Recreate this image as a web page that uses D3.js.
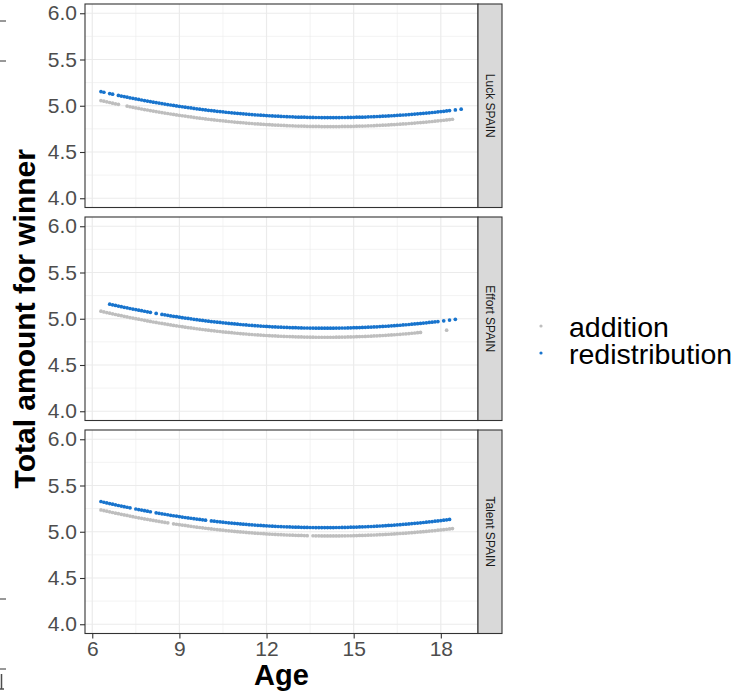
<!DOCTYPE html>
<html>
<head>
<meta charset="utf-8">
<script src="https://cdn.jsdelivr.net/npm/d3@7"></script>
<style>
  body { margin: 0; background: #fff; }
  svg { display: block; }
</style>
</head>
<body>
<svg id="chart" width="756" height="698"></svg>
<script>
// Ages at which predicted totals are plotted (shared by every series)
const AGES = [
  6.3, 6.4, 6.5, 6.6, 6.7, 6.8, 6.9, 7.0, 7.1, 7.2,
  7.3, 7.4, 7.5, 7.6, 7.7, 7.8, 7.9, 8.0, 8.1, 8.2,
  8.3, 8.4, 8.5, 8.6, 8.7, 8.8, 8.9, 9.0, 9.1, 9.2,
  9.3, 9.4, 9.5, 9.6, 9.7, 9.8, 9.9, 10.0, 10.1, 10.2,
  10.3, 10.4, 10.5, 10.6, 10.7, 10.8, 10.9, 11.0, 11.1, 11.2,
  11.3, 11.4, 11.5, 11.6, 11.7, 11.8, 11.9, 12.0, 12.1, 12.2,
  12.3, 12.4, 12.5, 12.6, 12.7, 12.8, 12.9, 13.0, 13.1, 13.2,
  13.3, 13.4, 13.5, 13.6, 13.7, 13.8, 13.9, 14.0, 14.1, 14.2,
  14.3, 14.4, 14.5, 14.6, 14.7, 14.8, 14.9, 15.0, 15.1, 15.2,
  15.3, 15.4, 15.5, 15.6, 15.7, 15.8, 15.9, 16.0, 16.1, 16.2,
  16.3, 16.4, 16.5, 16.6, 16.7, 16.8, 16.9, 17.0, 17.1, 17.2,
  17.3, 17.4, 17.5, 17.6, 17.7, 17.8, 17.9, 18.0, 18.1, 18.2,
  18.3, 18.4, 18.5, 18.6, 18.7
];

const FACETS = ["Luck SPAIN", "Effort SPAIN", "Talent SPAIN"];
const GROUPS = ["addition", "redistribution"];
const GROUP_COLORS = ["#bebebe", "#1874cd"];

const X_TICKS = [6, 9, 12, 15, 18];
const Y_TICKS = [4.0, 4.5, 5.0, 5.5, 6.0];

// Total amount for winner, one value per age (null = no observation)
const luckAddition = [
  5.056, 5.049, 5.042, 5.035, 5.028, 5.021, 5.015, null, null, 4.996,
  4.989, 4.983, 4.977, 4.971, 4.965, 4.959, 4.954, 4.948, 4.942, 4.937,
  4.932, 4.926, 4.921, 4.916, 4.911, 4.906, 4.901, 4.897, 4.892, 4.888,
  4.883, 4.879, 4.874, 4.870, 4.866, 4.862, 4.858, 4.854, 4.851, 4.847,
  4.843, 4.840, 4.837, 4.833, 4.830, 4.827, 4.824, 4.821, 4.818, 4.816,
  4.813, 4.810, 4.808, 4.805, 4.803, 4.801, 4.799, 4.797, 4.795, 4.793,
  4.791, 4.790, 4.788, 4.787, 4.785, 4.784, 4.783, 4.781, 4.780, 4.780,
  4.779, 4.778, 4.777, 4.777, 4.776, 4.776, 4.775, 4.775, 4.775, 4.775,
  4.775, 4.775, 4.775, 4.776, 4.776, 4.777, 4.777, 4.778, 4.779, 4.780,
  4.780, 4.781, 4.783, 4.784, 4.785, 4.787, 4.788, 4.790, 4.791, 4.793,
  4.795, 4.797, 4.799, 4.801, 4.803, 4.805, 4.808, 4.810, 4.813, 4.816,
  4.818, 4.821, 4.824, 4.827, 4.830, 4.833, 4.837, 4.840, 4.843, 4.847,
  4.851, 4.854, null, null, null
];
const luckRedistribution = [
  5.153, 5.146, null, 5.132, 5.125, null, 5.112, 5.105, 5.099, 5.093,
  5.086, 5.080, 5.074, 5.068, 5.062, 5.056, 5.051, 5.045, 5.039, 5.034,
  5.029, 5.023, 5.018, 5.013, 5.008, 5.003, 4.998, 4.994, 4.989, 4.985,
  4.980, 4.976, 4.971, 4.967, 4.963, 4.959, 4.955, 4.951, 4.948, 4.944,
  4.940, 4.937, 4.934, 4.930, 4.927, 4.924, 4.921, 4.918, 4.915, 4.913,
  4.910, 4.907, 4.905, 4.902, 4.900, 4.898, 4.896, 4.894, 4.892, 4.890,
  4.888, 4.887, 4.885, 4.884, 4.882, 4.881, 4.880, 4.878, 4.877, 4.877,
  4.876, 4.875, 4.874, 4.874, 4.873, 4.873, 4.872, 4.872, 4.872, 4.872,
  4.872, 4.872, 4.872, 4.873, 4.873, 4.874, 4.874, 4.875, 4.876, 4.877,
  4.877, 4.878, 4.880, 4.881, 4.882, 4.884, 4.885, 4.887, 4.888, 4.890,
  4.892, 4.894, 4.896, 4.898, 4.900, 4.902, 4.905, 4.907, 4.910, 4.913,
  4.915, 4.918, 4.921, 4.924, 4.927, 4.930, 4.934, 4.937, 4.940, 4.944,
  4.948, null, 4.955, null, 4.963
];

const effortAddition = [
  5.082, 5.074, 5.067, 5.060, 5.053, 5.046, 5.039, 5.033, 5.026, 5.020,
  5.013, 5.007, 5.001, 4.995, 4.989, 4.983, 4.977, 4.971, 4.965, 4.960,
  4.954, 4.949, 4.944, 4.939, 4.933, 4.928, 4.924, 4.919, 4.914, 4.909,
  4.905, 4.901, 4.896, 4.892, 4.888, 4.884, 4.880, 4.876, 4.872, 4.869,
  4.865, 4.862, 4.858, 4.855, 4.852, 4.849, 4.846, 4.843, 4.840, 4.837,
  4.835, 4.832, 4.830, 4.827, 4.825, 4.823, 4.821, 4.819, 4.817, 4.815,
  4.814, 4.812, 4.811, 4.809, 4.808, 4.807, 4.806, 4.805, 4.804, 4.803,
  4.802, 4.802, 4.801, 4.801, 4.800, 4.800, 4.800, 4.800, 4.800, 4.800,
  4.800, 4.801, 4.801, 4.802, 4.802, 4.803, 4.804, 4.805, 4.806, 4.807,
  4.808, 4.809, 4.811, 4.812, 4.814, 4.815, 4.817, 4.819, 4.821, 4.823,
  4.825, 4.827, 4.830, 4.832, 4.835, 4.837, 4.840, 4.843, 4.846, 4.849,
  4.852, null, null, null, null, null, null, null, null, 4.876,
  null, null, null, null, null
];
const effortRedistribution = [
  null, null, null, 5.158, 5.151, 5.144, 5.137, 5.131, 5.124, 5.118,
  5.111, 5.105, 5.099, 5.093, 5.087, 5.081, 5.075, 5.069, null, 5.058,
  null, 5.047, 5.042, 5.037, 5.031, 5.026, 5.022, 5.017, 5.012, 5.007,
  5.003, 4.999, 4.994, 4.990, 4.986, 4.982, 4.978, 4.974, 4.970, 4.967,
  4.963, 4.960, 4.956, 4.953, 4.950, 4.947, 4.944, 4.941, 4.938, 4.935,
  4.933, 4.930, 4.928, 4.925, 4.923, 4.921, 4.919, 4.917, 4.915, 4.913,
  4.912, 4.910, 4.909, 4.907, 4.906, 4.905, 4.904, 4.903, 4.902, 4.901,
  4.900, 4.900, 4.899, 4.899, 4.898, 4.898, 4.898, 4.898, 4.898, 4.898,
  4.898, 4.899, 4.899, 4.900, 4.900, 4.901, 4.902, 4.903, 4.904, 4.905,
  4.906, 4.907, 4.909, 4.910, 4.912, 4.913, 4.915, 4.917, 4.919, 4.921,
  4.923, 4.925, 4.928, 4.930, 4.933, 4.935, 4.938, 4.941, 4.944, 4.947,
  4.950, 4.953, 4.956, 4.960, 4.963, 4.967, 4.970, null, 4.978, null,
  4.986, null, 4.994, null, null
];

const talentAddition = [
  5.236, 5.229, 5.222, 5.215, 5.208, 5.201, 5.195, 5.188, 5.182, 5.176,
  5.169, 5.163, 5.157, 5.151, 5.145, 5.139, 5.134, 5.128, 5.122, 5.117,
  5.112, 5.106, 5.101, 5.096, null, 5.086, 5.081, 5.077, 5.072, 5.068,
  5.063, 5.059, 5.054, 5.050, 5.046, 5.042, 5.038, 5.034, 5.031, 5.027,
  5.023, 5.020, 5.017, 5.013, 5.010, 5.007, 5.004, 5.001, 4.998, 4.996,
  4.993, 4.990, 4.988, 4.985, 4.983, 4.981, 4.979, 4.977, 4.975, 4.973,
  4.971, 4.970, 4.968, 4.967, 4.965, 4.964, 4.963, 4.961, 4.960, 4.960,
  4.959, 4.958, null, 4.957, 4.956, 4.956, 4.955, 4.955, 4.955, 4.955,
  4.955, 4.955, 4.955, 4.956, 4.956, 4.957, 4.957, 4.958, 4.959, 4.960,
  4.960, 4.961, 4.963, 4.964, 4.965, 4.967, 4.968, 4.970, 4.971, 4.973,
  4.975, 4.977, 4.979, 4.981, 4.983, 4.985, 4.988, 4.990, 4.993, 4.996,
  4.998, 5.001, 5.004, 5.007, 5.010, 5.013, 5.017, 5.020, 5.023, 5.027,
  5.031, 5.034, null, null, null
];
const talentRedistribution = [
  5.327, 5.319, 5.312, 5.305, 5.298, 5.291, 5.284, 5.278, 5.271, 5.265,
  5.258, null, 5.246, 5.240, 5.234, 5.228, 5.222, 5.216, null, 5.205,
  5.199, 5.194, 5.189, 5.184, 5.178, 5.173, 5.169, 5.164, 5.159, 5.154,
  5.150, 5.146, 5.141, 5.137, 5.133, 5.129, 5.125, null, 5.117, 5.114,
  5.110, 5.107, 5.103, 5.100, 5.097, 5.094, 5.091, 5.088, 5.085, 5.082,
  5.080, 5.077, 5.075, 5.072, 5.070, 5.068, 5.066, 5.064, 5.062, 5.060,
  5.059, 5.057, 5.056, 5.054, 5.053, 5.052, 5.051, 5.050, 5.049, 5.048,
  5.047, 5.047, 5.046, 5.046, 5.045, 5.045, 5.045, 5.045, 5.045, 5.045,
  5.045, 5.046, 5.046, 5.047, 5.047, 5.048, 5.049, 5.050, 5.051, 5.052,
  5.053, 5.054, 5.056, 5.057, 5.059, 5.060, 5.062, 5.064, 5.066, 5.068,
  5.070, 5.072, 5.075, 5.077, 5.080, 5.082, 5.085, 5.088, 5.091, 5.094,
  5.097, 5.100, 5.103, 5.107, 5.110, 5.114, 5.117, 5.121, 5.125, 5.129,
  5.133, null, null, null, null
];

const PANEL_SERIES = [
  [luckAddition, luckRedistribution],
  [effortAddition, effortRedistribution],
  [talentAddition, talentRedistribution]
];

// ---- layout ----
const FONT = "'Liberation Sans', Arial, Helvetica, sans-serif";
const panelLeft = 85, panelRight = 478, stripW = 24;
const panelTops = [4, 217, 430], panelH = 203.5;

const svg = d3.select("#chart").style("font-family", FONT);

const x = d3.scaleLinear().domain([5.75, 19.28]).range([panelLeft, panelRight]);
const xMinor = d3.pairs(X_TICKS).map(([a, b]) => (a + b) / 2);
const yMinor = d3.pairs(Y_TICKS).map(([a, b]) => (a + b) / 2);

PANEL_SERIES.forEach((pair, p) => {
  const top = panelTops[p];
  const y = d3.scaleLinear().domain([3.9, 6.1]).range([top + panelH, top]);
  const g = svg.append("g");

  // background grid
  g.append("rect").attr("x", panelLeft).attr("y", top)
    .attr("width", panelRight - panelLeft).attr("height", panelH).attr("fill", "#fff");
  g.selectAll(".ymin").data(yMinor).join("line")
    .attr("x1", panelLeft).attr("x2", panelRight)
    .attr("y1", d => y(d)).attr("y2", d => y(d))
    .attr("stroke", "#ebebeb").attr("stroke-width", 0.6);
  g.selectAll(".xmin").data(xMinor).join("line")
    .attr("y1", top).attr("y2", top + panelH)
    .attr("x1", d => x(d)).attr("x2", d => x(d))
    .attr("stroke", "#ebebeb").attr("stroke-width", 0.6);
  g.selectAll(".ymaj").data(Y_TICKS).join("line")
    .attr("x1", panelLeft).attr("x2", panelRight)
    .attr("y1", d => y(d)).attr("y2", d => y(d))
    .attr("stroke", "#ebebeb").attr("stroke-width", 1.2);
  g.selectAll(".xmaj").data(X_TICKS).join("line")
    .attr("y1", top).attr("y2", top + panelH)
    .attr("x1", d => x(d)).attr("x2", d => x(d))
    .attr("stroke", "#ebebeb").attr("stroke-width", 1.2);

  // points for each group
  pair.forEach((vals, gi) => {
    const pts = AGES.map((a, i) => ({ age: a, v: vals[i] })).filter(d => d.v != null);
    g.append("g").selectAll("circle").data(pts).join("circle")
      .attr("cx", d => x(d.age)).attr("cy", d => y(d.v))
      .attr("r", 1.85).attr("fill", GROUP_COLORS[gi]);
  });

  // panel border
  g.append("rect").attr("x", panelLeft).attr("y", top)
    .attr("width", panelRight - panelLeft).attr("height", panelH)
    .attr("fill", "none").attr("stroke", "#333333").attr("stroke-width", 1.1);

  // strip on the right
  g.append("rect").attr("x", panelRight).attr("y", top)
    .attr("width", stripW).attr("height", panelH)
    .attr("fill", "#d9d9d9").attr("stroke", "#333333").attr("stroke-width", 1.1);
  g.append("text")
    .attr("transform", `translate(${panelRight + stripW / 2},${top + panelH / 2}) rotate(90)`)
    .attr("text-anchor", "middle").attr("dy", "0.35em")
    .attr("font-size", 12).attr("fill", "#1a1a1a")
    .text(FACETS[p]);

  // y axis
  const ya = g.append("g").attr("transform", `translate(${panelLeft},0)`)
    .call(d3.axisLeft(y).tickValues(Y_TICKS).tickFormat(d3.format(".1f")).tickSize(5).tickPadding(3));
  ya.select(".domain").remove();
  ya.selectAll(".tick line").attr("stroke", "#333333").attr("stroke-width", 1.1);
  ya.selectAll(".tick text").attr("fill", "#4d4d4d").attr("font-size", 21).attr("font-family", FONT);

  // x axis on the bottom panel only
  if (p === PANEL_SERIES.length - 1) {
    const xa = g.append("g").attr("transform", `translate(0,${top + panelH})`)
      .call(d3.axisBottom(x).tickValues(X_TICKS).tickFormat(d3.format("d")).tickSize(5).tickPadding(3));
    xa.select(".domain").remove();
    xa.selectAll(".tick line").attr("stroke", "#333333").attr("stroke-width", 1.1);
    xa.selectAll(".tick text").attr("fill", "#4d4d4d").attr("font-size", 21).attr("font-family", FONT);
  }
});

// axis titles
svg.append("text")
  .attr("x", (panelLeft + panelRight) / 2).attr("y", 685)
  .attr("text-anchor", "middle").attr("font-size", 29).attr("font-weight", "bold")
  .attr("fill", "#000").text("Age");
svg.append("text")
  .attr("transform", `translate(35,${(panelTops[0] + panelTops[2] + panelH) / 2}) rotate(-90)`)
  .attr("text-anchor", "middle").attr("font-size", 30).attr("font-weight", "bold")
  .attr("fill", "#000").text("Total amount for winner");

// legend
const legend = svg.append("g");
GROUPS.forEach((name, i) => {
  const cy = 326 + i * 27;
  legend.append("circle").attr("cx", 541).attr("cy", cy).attr("r", 1.6).attr("fill", GROUP_COLORS[i]);
  legend.append("text").attr("x", 569).attr("y", cy + 11)
    .attr("font-size", 28.5).attr("fill", "#000").text(name);
});

// edge fragments at the left border
const edge = svg.append("g").attr("stroke", "#333333").attr("stroke-width", 1).attr("fill", "none");
[21, 61, 599, 669].forEach(yy => {
  edge.append("line").attr("x1", 0).attr("x2", 6).attr("y1", yy).attr("y2", yy);
});
edge.append("path").attr("d", "M1.5,674 L1.5,689 M0,689 L4,689").attr("stroke", "#4d4d4d").attr("stroke-width", 1.5);
</script>
</body>
</html>
